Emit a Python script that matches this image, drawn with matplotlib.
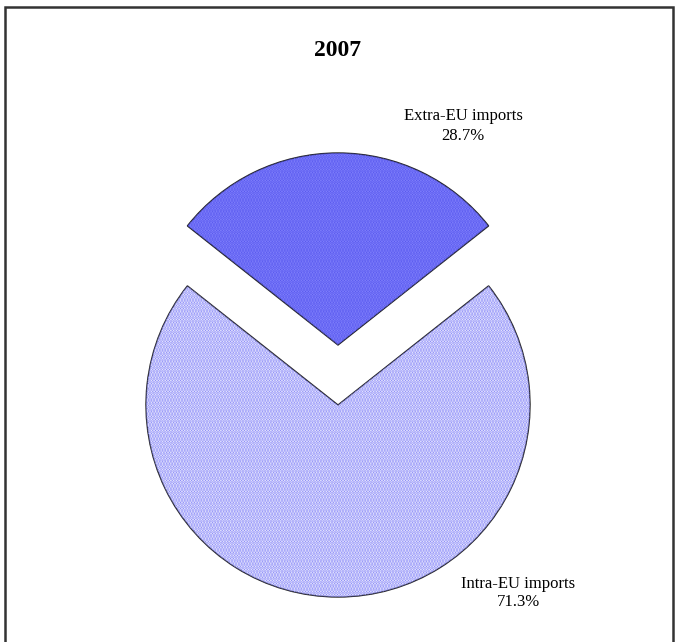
import matplotlib.pyplot as plt
from matplotlib.patches import Rectangle

plt.rcParams['font.family'] = ['Liberation Serif', 'DejaVu Serif']
plt.rcParams['hatch.linewidth'] = 1.6

title = "2007"
labels = ["Extra-EU imports", "Intra-EU imports"]
shares = [28.7, 71.3]
face_colors = ["#8a8aff", "#ffffff"]
dot_colors = ["#5656ee", "#8888f8"]

fig = plt.figure(figsize=(6.75, 6.42), dpi=100)
ax = fig.add_axes([0, 0, 1, 1])
ax.set_aspect("equal")
ax.axis("off")

# axes units are pixels, so explode is a pixel offset here
center = (338, 237)
radius = 192
explode = [60, 0]
start = 90 - shares[0] * 3.6 / 2

# solid wedges with dark outline
ax.pie(shares, explode=explode, colors=face_colors, startangle=start,
       counterclock=True, center=center, radius=radius,
       wedgeprops=dict(edgecolor="#222222", linewidth=1.0))

# dotted texture on top
wedges, _ = ax.pie(shares, explode=explode, startangle=start,
                   counterclock=True, center=center, radius=radius,
                   wedgeprops=dict(linewidth=0, facecolor="none"))
for w, c in zip(wedges, dot_colors):
    w.set_edgecolor(c)
    w.set_linewidth(0)
    w.set_hatch("......")

ax.set_xlim(0, 675)
ax.set_ylim(0, 642)

ax.text(338, 642 - 50, title, ha="center", va="center",
        fontsize=17, fontweight="bold")
ax.text(463, 642 - 126, f"{labels[0]}\n{shares[0]}%", ha="center",
        va="center", fontsize=12, linespacing=1.25)
ax.text(518, 642 - 593, f"{labels[1]}\n{shares[1]}%", ha="center",
        va="center", fontsize=12, linespacing=1.25)

# chart frame, open at the bottom edge
fig.patches.append(Rectangle((5 / 675, -0.05), 668 / 675, 1.05 - 7 / 642,
                             transform=fig.transFigure, fill=False,
                             edgecolor="#333333", linewidth=1.8))

fig.savefig("out.png", dpi=100)
